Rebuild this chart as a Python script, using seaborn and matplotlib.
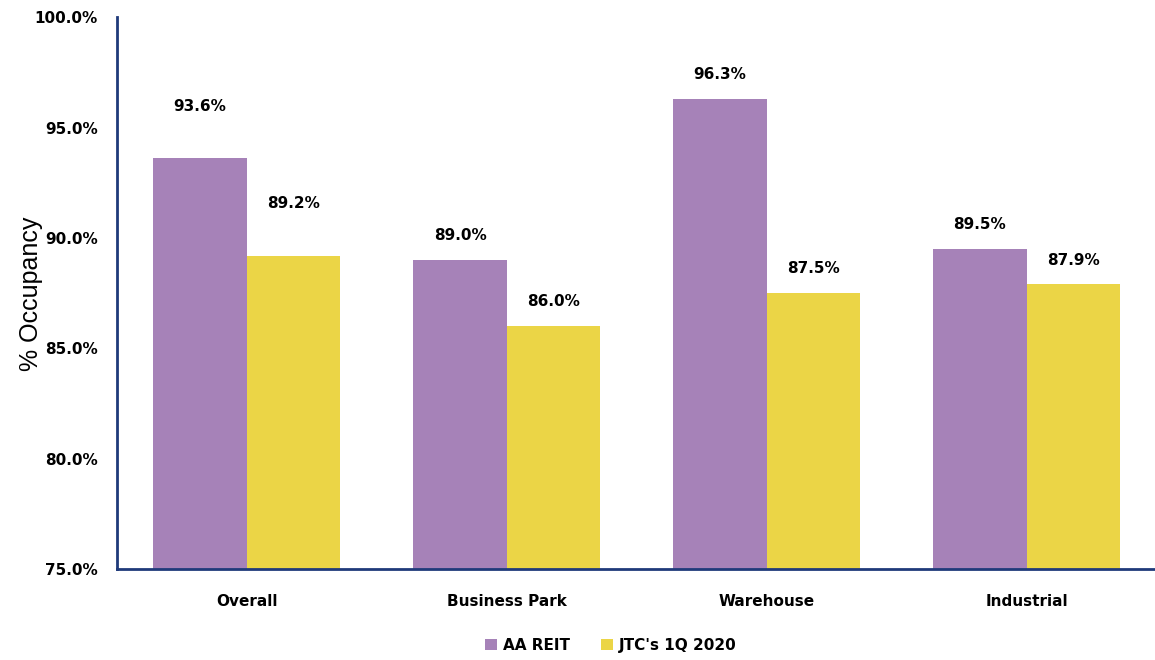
import pandas as pd
import matplotlib
matplotlib.use("Agg")
import matplotlib.pyplot as plt
import seaborn as sns

# --- data ---
categories = ["Overall", "Business Park", "Warehouse", "Industrial"]
aa_reit = [93.6, 89.0, 96.3, 89.5]
jtc_1q2020 = [89.2, 86.0, 87.5, 87.9]
series_names = ["AA REIT", "JTC's 1Q 2020"]
y_ticks = [75, 80, 85, 90, 95, 100]

PURPLE = "#A682B8"
YELLOW = "#EBD546"
NAVY = "#1F3A7A"

df = pd.DataFrame({
    "category": categories * 2,
    "series": [series_names[0]] * 4 + [series_names[1]] * 4,
    "occupancy": aa_reit + jtc_1q2020,
})

sns.set_theme(style="white")
plt.rcParams["font.family"] = ["DejaVu Sans"]
plt.rcParams["text.color"] = "black"
plt.rcParams["xtick.color"] = "black"
plt.rcParams["ytick.color"] = "black"

fig = plt.figure(figsize=(11.55, 6.6), dpi=100)
ax = fig.add_axes([0.1013, 0.138, 0.9, 0.836])

sns.barplot(data=df, x="category", y="occupancy", hue="series",
            palette=[PURPLE, YELLOW], width=0.72, saturation=1,
            linewidth=0, ax=ax, legend=True)

ax.set_ylim(75, 100)
ax.set_xlim(-0.5, 3.5)
ax.set_yticks(y_ticks)
ax.set_yticklabels([f"{t:.1f}%" for t in y_ticks], fontweight="bold", fontsize=11)
for lbl in ax.get_xticklabels():
    lbl.set_fontweight("bold")
    lbl.set_fontsize(11)
ax.tick_params(axis="x", length=0, pad=18)
ax.tick_params(axis="y", length=0, pad=14)
ax.set_xlabel("")
ax.set_ylabel("")

for side in ["top", "right"]:
    ax.spines[side].set_visible(False)
for side in ["left", "bottom"]:
    ax.spines[side].set_color(NAVY)
    ax.spines[side].set_linewidth(2)

# value labels; the "Overall" pair sits a little higher in the original
for cont in ax.containers:
    for i, bar in enumerate(cont):
        h = bar.get_height()
        off = 32 if i == 0 else 12
        ax.annotate(f"{h:.1f}%", (bar.get_x() + bar.get_width() / 2, h),
                    xytext=(0, off), textcoords="offset points",
                    ha="center", va="bottom", fontweight="bold", fontsize=11)

# y label drawn over the tick labels, like the source
fig.text(0.027, 0.555, "% Occupancy", rotation=90, ha="center", va="center",
         fontsize=18, family="Liberation Sans",
         bbox=dict(facecolor="white", edgecolor="none", pad=1))

ax.legend(loc="upper center", bbox_to_anchor=(0.475, -0.1), ncol=2,
          frameon=False, handlelength=0.8, handleheight=0.8,
          columnspacing=2.0, handletextpad=0.4,
          prop={"weight": "bold", "size": 11})

fig.savefig("out.png", dpi=100)
